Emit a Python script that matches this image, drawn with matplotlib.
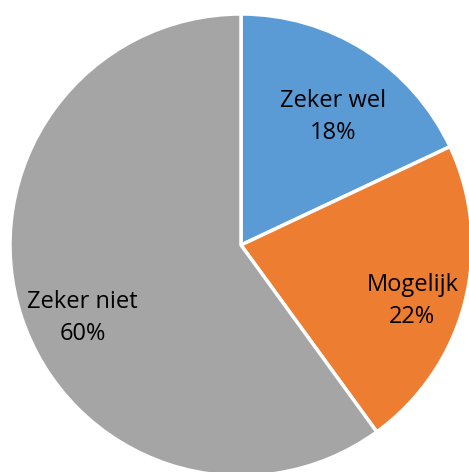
import matplotlib
matplotlib.use("Agg")
import matplotlib.pyplot as plt
import numpy as np

categories = ["Zeker wel", "Mogelijk", "Zeker niet"]
values = [18, 22, 60]
colors = ["#5B9BD5", "#ED7D31", "#A5A5A5"]
# label placement (style): radial fraction and angular offset in degrees
label_radius = [0.68, 0.78, 0.755]
label_dang = [-3.3, -3.6, 6.8]

W, H = 469, 472
fig = plt.figure(figsize=(W / 100, H / 100), dpi=100)
ax = fig.add_axes([0, 0, 1, 1])
cx, cy, r = 241, H - 245, 231
wedges, _ = ax.pie(values, colors=colors, startangle=90, counterclock=False,
                   center=(cx, cy), radius=r,
                   wedgeprops=dict(edgecolor="white", linewidth=2.5))
ax.set_xlim(0, W)
ax.set_ylim(0, H)
ax.set_aspect("auto")
ax.axis("off")

for w, cat, v, f, da in zip(wedges, categories, values, label_radius, label_dang):
    ang = np.deg2rad((w.theta1 + w.theta2) / 2 + da)
    x = cx + f * r * np.cos(ang)
    y = cy + f * r * np.sin(ang)
    ax.text(x, y, f"{cat}\n{v}%", ha="center", va="center", fontsize=17,
            family=["Open Sans", "DejaVu Sans"], color="black", linespacing=1.45)

fig.savefig("out.png", dpi=100)
